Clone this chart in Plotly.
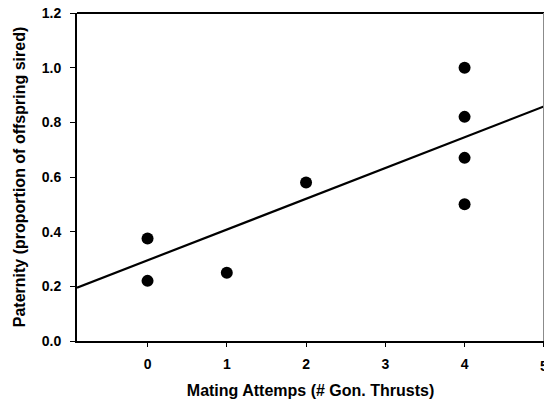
import plotly.graph_objects as go

# Data
mating_attempts = [0, 0, 1, 2, 4, 4, 4, 4]
paternity = [0.22, 0.375, 0.25, 0.58, 0.50, 0.67, 0.82, 1.00]

# Regression line end points
fit_x = [-0.89, 5.0]
fit_y = [0.195, 0.858]

x_ticks = [0, 1, 2, 3, 4, 5]
y_ticks = [0.0, 0.2, 0.4, 0.6, 0.8, 1.0, 1.2]

FONT = "Liberation Sans, Arial, sans-serif"

fig = go.Figure()
fig.add_trace(go.Scatter(x=fit_x, y=fit_y, mode="lines",
                         line=dict(color="black", width=2.2),
                         showlegend=False, hoverinfo="skip"))
fig.add_trace(go.Scatter(x=mating_attempts, y=paternity, mode="markers",
                         marker=dict(color="black", size=12),
                         showlegend=False, cliponaxis=False))

fig.update_layout(
    width=544, height=403,
    margin=dict(l=77, r=0, t=13, b=62),
    plot_bgcolor="white", paper_bgcolor="white",
    font=dict(family=FONT, color="black"),
    xaxis=dict(
        range=[-0.89, 5.002], tickvals=x_ticks,
        ticktext=[str(v) for v in x_ticks],
        showgrid=False, zeroline=False,
        showline=True, linecolor="black", linewidth=2,
        ticks="outside", ticklen=4, tickwidth=1, tickcolor="black",
        ticklabelstandoff=5,
        tickfont=dict(size=14, weight="bold", family=FONT),
        title=dict(text="Mating Attemps (# Gon. Thrusts)",
                   font=dict(size=16, weight="bold", family=FONT), standoff=14),
    ),
    yaxis=dict(
        range=[0, 1.2], tickvals=y_ticks,
        ticktext=["%.1f" % v for v in y_ticks],
        showgrid=False, zeroline=False,
        showline=True, linecolor="black", linewidth=2,
        ticks="outside", ticklen=5, tickwidth=1, tickcolor="black",
        ticklabelstandoff=6,
        tickfont=dict(size=14, weight="bold", family=FONT),
        title=dict(text="Paternity (proportion of offspring sired)",
                   font=dict(size=16, weight="bold", family=FONT), standoff=12),
    ),
    shapes=[
        dict(type="line", xref="paper", yref="paper", x0=0, x1=1, y0=1, y1=1,
             line=dict(color="black", width=2)),
        dict(type="line", xref="paper", yref="paper", x0=0.999, x1=0.999, y0=0, y1=1,
             line=dict(color="#888888", width=1)),
    ],
    annotations=[
        dict(x=x_ticks[-1], y=0, xref="x", yref="paper", text=str(x_ticks[-1]),
             showarrow=False, yanchor="top", xanchor="center", yshift=-15,
             font=dict(size=14, weight="bold", family=FONT)),
    ],
)

fig.write_html("out.html")
